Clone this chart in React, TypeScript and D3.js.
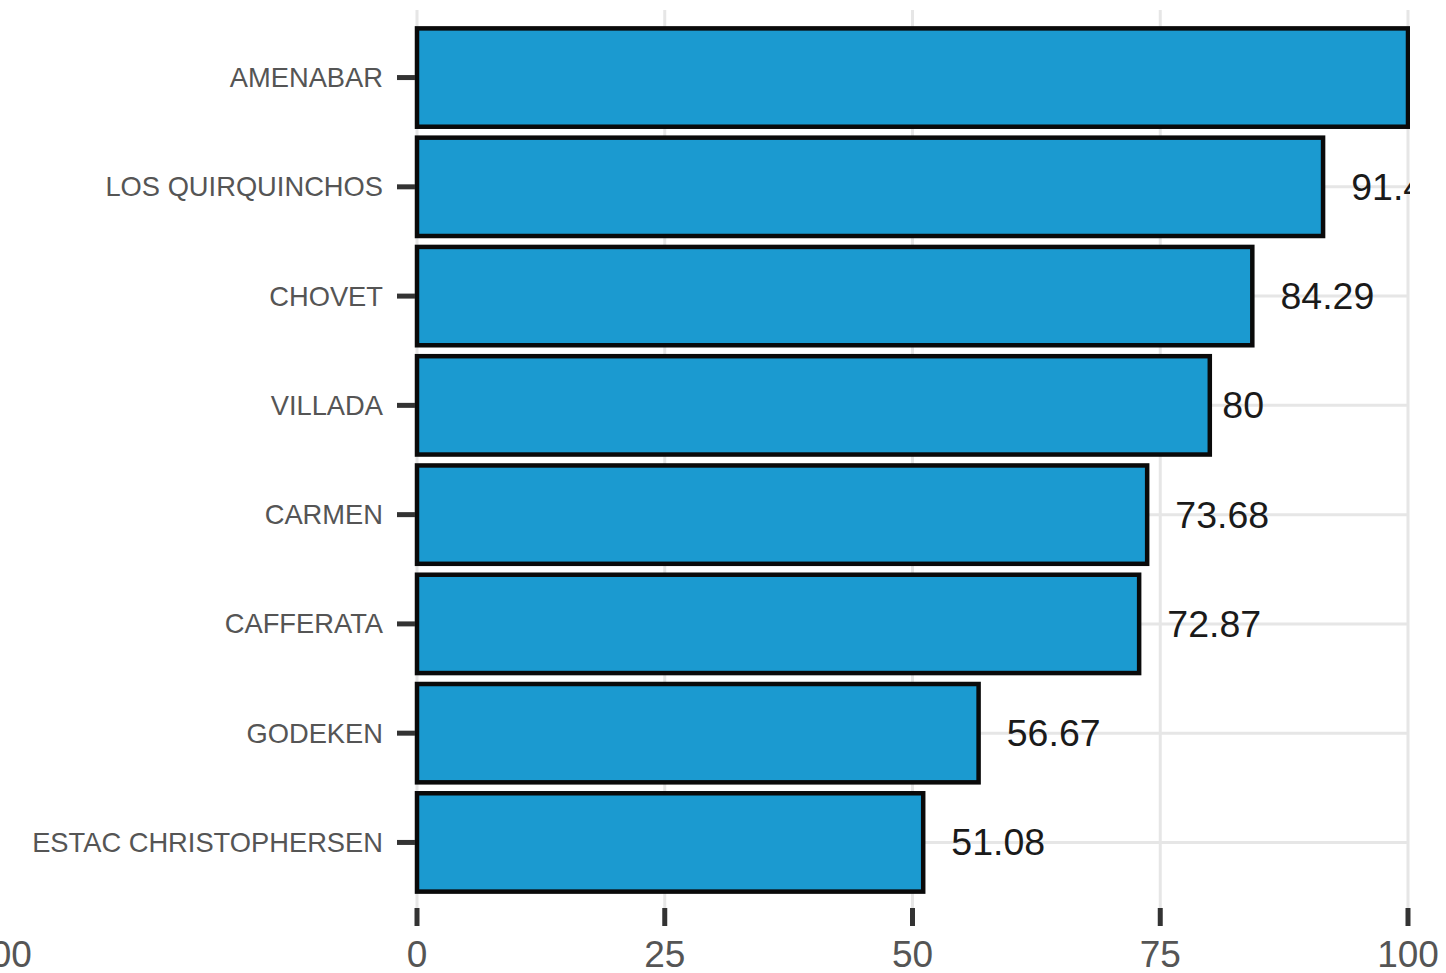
import React from "react";
import * as d3 from "d3";

const categories = [
  "AMENABAR",
  "LOS QUIRQUINCHOS",
  "CHOVET",
  "VILLADA",
  "CARMEN",
  "CAFFERATA",
  "GODEKEN",
  "ESTAC CHRISTOPHERSEN",
];
const values = [100, 91.43, 84.29, 80, 73.68, 72.87, 56.67, 51.08];
const valueLabels = ["100", "91.43", "84.29", "80", "73.68", "72.87", "56.67", "51.08"];
const xTicks = [0, 25, 50, 75, 100];
const xTickLabels = ["0", "25", "50", "75", "100"];
const strayLeftLabel = "100";

const W = 1446;
const H = 973;
const FONT = "'Liberation Sans', Arial, Helvetica, sans-serif";

function measure(text: string, size: number) {
  const c = document.createElement("canvas").getContext("2d");
  if (!c) return text.length * size * 0.55;
  c.font = `${size}px ${FONT}`;
  return c.measureText(text).width;
}

export default function App() {
  const panel = { left: 417, right: 1408, top: 12, bottom: 908 };
  const x = d3.scaleLinear().domain([0, 100]).range([panel.left, panel.right]);
  const n = categories.length;
  const unit = (panel.bottom - panel.top) / (n - 1 + 1.2);
  const yCenter = (i: number) => panel.top + (0.6 + i) * unit;
  const barH = unit * 0.9;
  const valSize = 37.5;
  const clipRight = panel.right + 2;

  return (
    <svg
      width={W}
      height={H}
      style={{ position: "absolute", left: 0, top: 0, background: "#fff" }}
      fontFamily={FONT}
    >
      <defs>
        <clipPath id="panelClip">
          <rect x={panel.left - 4} y={panel.top - 2} width={clipRight - panel.left + 4} height={panel.bottom - panel.top + 2} />
        </clipPath>
      </defs>
      <g clipPath="url(#panelClip)">
        {xTicks.map((t) => (
          <line key={"vg" + t} x1={x(t)} x2={x(t)} y1={panel.top - 2} y2={panel.bottom} stroke="#e6e6e6" strokeWidth={3} />
        ))}
        {categories.map((c, i) => (
          <line key={"hg" + c} x1={panel.left} x2={panel.right} y1={yCenter(i)} y2={yCenter(i)} stroke="#e6e6e6" strokeWidth={3} />
        ))}
        {categories.map((c, i) => (
          <rect
            key={"b" + c}
            x={x(0)}
            y={yCenter(i) - barH / 2}
            width={x(values[i]) - x(0)}
            height={barH}
            fill="#1B9AD0"
            stroke="#0a0a0a"
            strokeWidth={4.5}
          />
        ))}
        {categories.map((c, i) => {
          const w = measure(valueLabels[i], valSize);
          const lx = x(values[i]) + 0.3 * w;
          if (lx >= clipRight) return null;
          return (
            <text
              key={"v" + c}
              x={lx}
              y={yCenter(i)}
              dominantBaseline="central"
              fontSize={valSize}
              fill="#1a1a1a"
            >
              {valueLabels[i]}
            </text>
          );
        })}
      </g>
      {categories.map((c, i) => (
        <g key={"yt" + c}>
          <line x1={397} x2={415} y1={yCenter(i)} y2={yCenter(i)} stroke="#333" strokeWidth={5} />
          <text
            x={383}
            y={yCenter(i)}
            textAnchor="end"
            dominantBaseline="central"
            fontSize={27.3}
            fill="#555"
          >
            {c}
          </text>
        </g>
      ))}
      {xTicks.map((t, i) => (
        <g key={"xt" + t}>
          <line x1={x(t)} x2={x(t)} y1={908} y2={926} stroke="#333" strokeWidth={5} />
          <text x={x(t)} y={954} textAnchor="middle" dominantBaseline="central" fontSize={37} fill="#555">
            {xTickLabels[i]}
          </text>
        </g>
      ))}
      <text x={1} y={954} textAnchor="middle" dominantBaseline="central" fontSize={37} fill="#555">
        {strayLeftLabel}
      </text>
    </svg>
  );
}
